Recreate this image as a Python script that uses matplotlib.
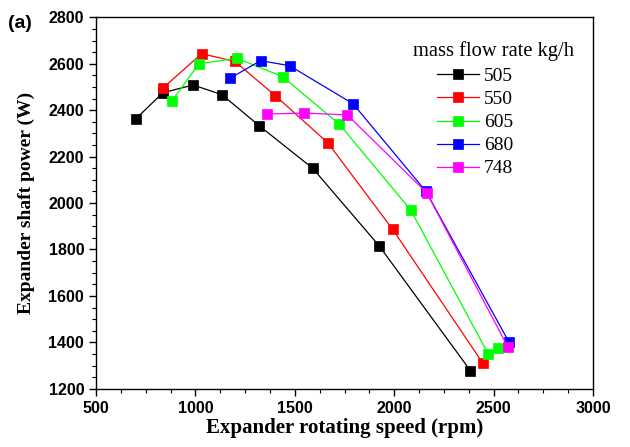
import matplotlib.pyplot as plt
from matplotlib.ticker import MultipleLocator

# mass flow rates (kg/h) and the measured curves
flows = ['505', '550', '605', '680', '748']
colors = ['#000000', '#ff0000', '#00ff00', '#0000ff', '#ff00ff']

rpm_505 = [701, 837, 989, 1134, 1320, 1590, 1924, 2383]
pow_505 = [2364, 2476, 2509, 2467, 2334, 2150, 1816, 1278]

rpm_550 = [837, 1031, 1198, 1402, 1667, 1992, 2445]
pow_550 = [2496, 2644, 2611, 2463, 2259, 1887, 1311]

rpm_605 = [881, 1018, 1209, 1439, 1724, 2083, 2472, 2522]
pow_605 = [2439, 2601, 2624, 2545, 2340, 1970, 1351, 1377]

rpm_680 = [1174, 1328, 1474, 1793, 2160, 2576]
pow_680 = [2538, 2614, 2592, 2428, 2050, 1403]

rpm_748 = [1360, 1546, 1764, 2163, 2571]
pow_748 = [2384, 2388, 2380, 2045, 1381]

all_rpm = [rpm_505, rpm_550, rpm_605, rpm_680, rpm_748]
all_pow = [pow_505, pow_550, pow_605, pow_680, pow_748]

fig = plt.figure(figsize=(6.3, 4.47), dpi=100)
ax = fig.add_axes([0.1524, 0.1304, 0.7889, 0.8305])

for x, y, lab, c in zip(all_rpm, all_pow, flows, colors):
    ax.plot(x, y, '-s', color=c, lw=0.9, ms=7.5, mec=c, mew=0.5, label=lab)

ax.set_xlim(500, 3000)
ax.set_ylim(1200, 2800)
ax.xaxis.set_major_locator(MultipleLocator(500))
ax.xaxis.set_minor_locator(MultipleLocator(125))
ax.yaxis.set_major_locator(MultipleLocator(200))
ax.yaxis.set_minor_locator(MultipleLocator(50))
ax.tick_params(which='major', direction='out', length=5, width=1)
ax.tick_params(which='minor', direction='out', length=3, width=0.8)
for lbl in ax.get_xticklabels() + ax.get_yticklabels():
    lbl.set_fontfamily('Liberation Sans')
    lbl.set_fontweight('bold')
    lbl.set_fontsize(11.5)
for s in ax.spines.values():
    s.set_linewidth(1)

ax.set_xlabel('Expander rotating speed (rpm)', family='Liberation Serif',
              fontweight='bold', fontsize=15, labelpad=2)
ax.set_ylabel('Expander shaft power (W)', family='Liberation Serif',
              fontweight='bold', fontsize=14, labelpad=10)

# legend title drawn separately so entries can sit left of its centre
fig.text(413 / 630, 1 - 51 / 447, 'mass flow rate kg/h', family='Liberation Serif',
         fontsize=14.8, va='center', ha='left')
ax.legend(loc='upper left', bbox_to_anchor=(0.686, 0.865), frameon=False,
          borderpad=0, borderaxespad=0, handlelength=2.15, handletextpad=0.25,
          labelspacing=0.28, prop={'family': 'Liberation Serif', 'size': 14})

fig.text(0.013, 1 - 23 / 447, '(a)', family='Liberation Sans', fontweight='bold',
         fontsize=14, va='center')

fig.savefig('out.png', dpi=100)
